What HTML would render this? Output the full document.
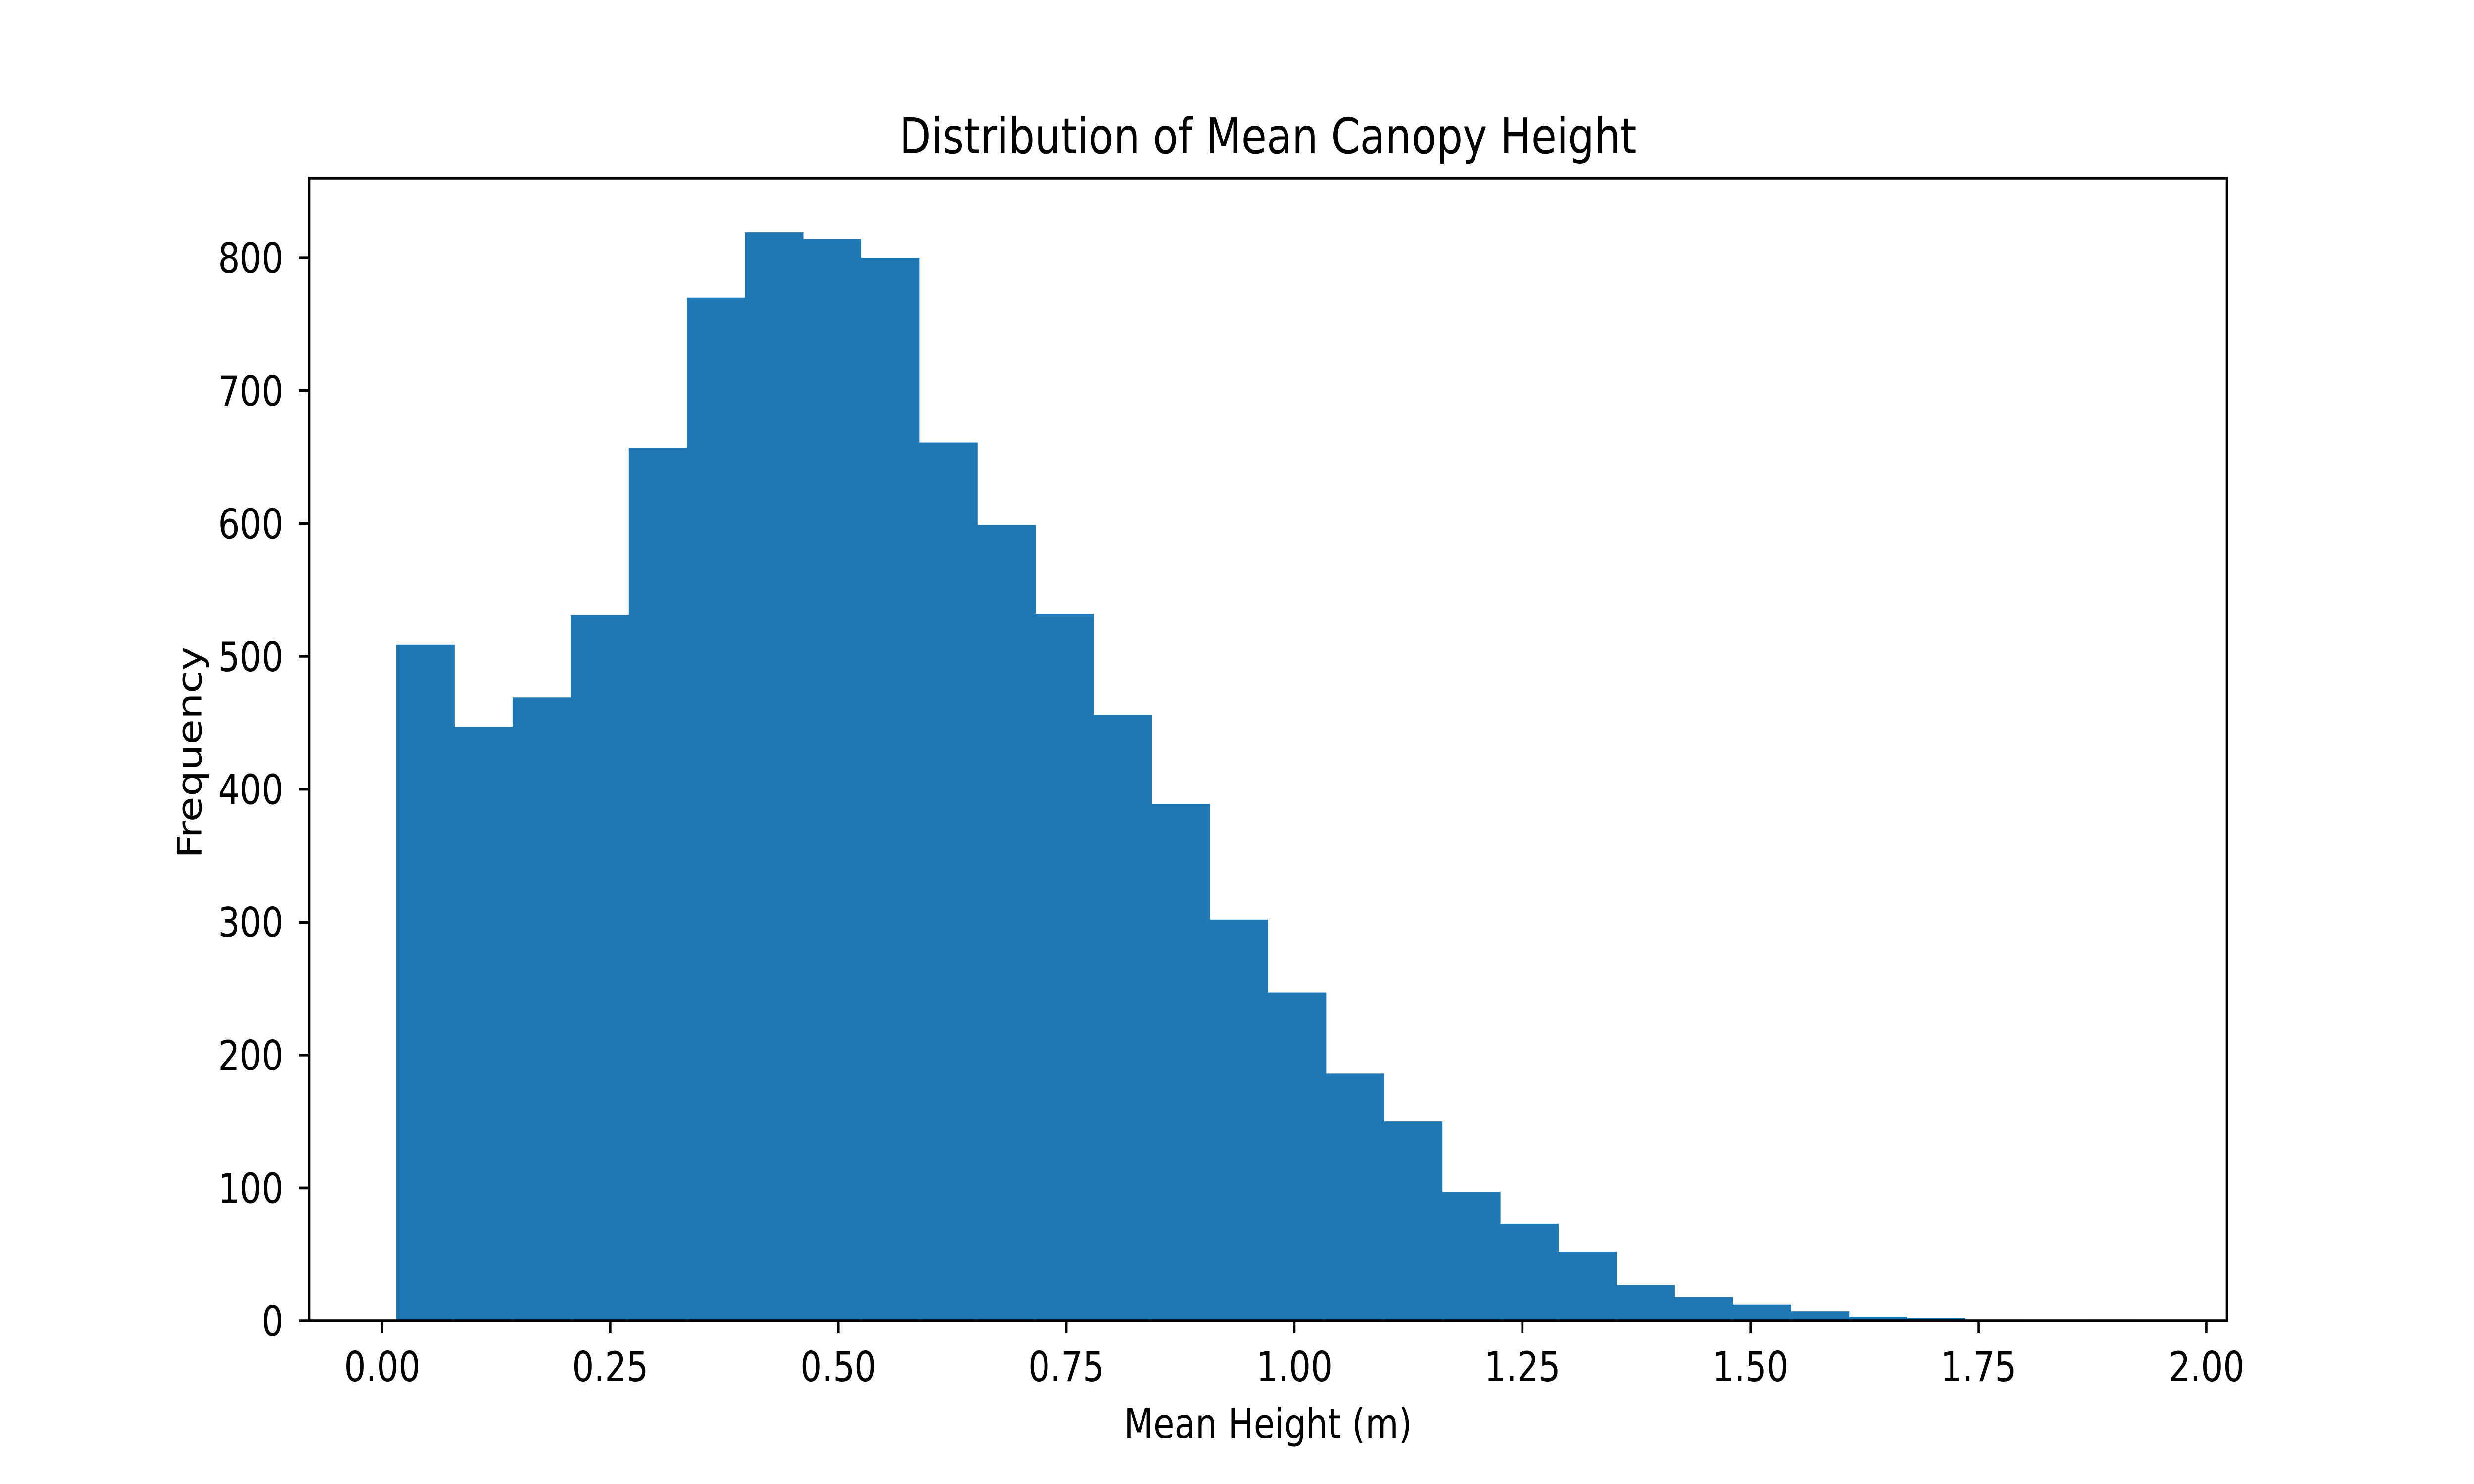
<!DOCTYPE html>
<html><head><meta charset="utf-8"><style>
html,body{margin:0;padding:0;background:#fff;width:100%;height:100%;overflow:hidden;}
svg{display:block;position:absolute;left:0;top:0;width:100vw;height:100vh;font-family:"DejaVu Sans","Liberation Sans",sans-serif;}
</style></head><body>
<svg id="chart" viewBox="0 0 6000 3000" preserveAspectRatio="none" xmlns="http://www.w3.org/2000/svg">
<rect width="6000" height="3000" fill="#fff"/>
<g id="bars"></g>
<g id="ticks"></g>
<rect x="750" y="360" width="4650" height="2310" fill="none" stroke="#000" stroke-width="5.6"/>
<text x="3075" y="310" font-size="100" text-anchor="middle">Distribution of Mean Canopy Height</text>
<text x="3075" y="2907" font-size="83" text-anchor="middle">Mean Height (m)</text>
<text x="489" y="1521" font-size="83" text-anchor="middle" transform="rotate(-90 489 1521)">Frequency</text>
</svg>
<script>
const counts = [509,447,469,531,657,770,819,814,800,661,599,532,456,389,302,247,186,150,97,73,52,27,18,12,7,3,2,1,0,1];
const binStart = 0.0155;
const binWidth = 0.0637;
const xTicks = [0,0.25,0.5,0.75,1.0,1.25,1.5,1.75,2.0];
const xTickLabels = ["0.00","0.25","0.50","0.75","1.00","1.25","1.50","1.75","2.00"];
const yTicks = [0,100,200,300,400,500,600,700,800];
const yTickLabels = ["0","100","200","300","400","500","600","700","800"];

const L=750,R=5400,T=360,B=2670;
const xMin=-0.080,xMax=2.022,yMax=860;
function xs(v){return L+(v-xMin)/(xMax-xMin)*(R-L);}
function ys(v){return B-v/yMax*(B-T);}
const NS="http://www.w3.org/2000/svg";
const bars=document.getElementById('bars');
counts.forEach((c,i)=>{
  const x0=xs(binStart+i*binWidth), x1=xs(binStart+(i+1)*binWidth);
  const r=document.createElementNS(NS,'rect');
  r.setAttribute('x',x0);r.setAttribute('width',x1-x0+0.5);
  r.setAttribute('y',ys(c));r.setAttribute('height',B-ys(c));
  r.setAttribute('fill','#1f77b4');
  
  
  bars.appendChild(r);
});
const tg=document.getElementById('ticks');
xTicks.forEach((v,i)=>{
  const x=xs(v);
  const l=document.createElementNS(NS,'line');
  l.setAttribute('x1',x);l.setAttribute('x2',x);l.setAttribute('y1',B);l.setAttribute('y2',B+25);
  l.setAttribute('stroke','#000');l.setAttribute('stroke-width','5.6');
  
  
  tg.appendChild(l);
  const t=document.createElementNS(NS,'text');
  t.setAttribute('x',x);t.setAttribute('y',2792);t.setAttribute('font-size','83');t.setAttribute('text-anchor','middle');
  t.textContent=xTickLabels[i];
  
  
  tg.appendChild(t);
});
yTicks.forEach((v,i)=>{
  const y=ys(v);
  const l=document.createElementNS(NS,'line');
  l.setAttribute('x1',L-25);l.setAttribute('x2',L);l.setAttribute('y1',y);l.setAttribute('y2',y);
  l.setAttribute('stroke','#000');l.setAttribute('stroke-width','5.6');
  
  
  tg.appendChild(l);
  const t=document.createElementNS(NS,'text');
  t.setAttribute('x',687);t.setAttribute('y',y+30);t.setAttribute('font-size','83');t.setAttribute('text-anchor','end');
  t.textContent=yTickLabels[i];
  
  
  tg.appendChild(t);
});
</script>
</body></html>
